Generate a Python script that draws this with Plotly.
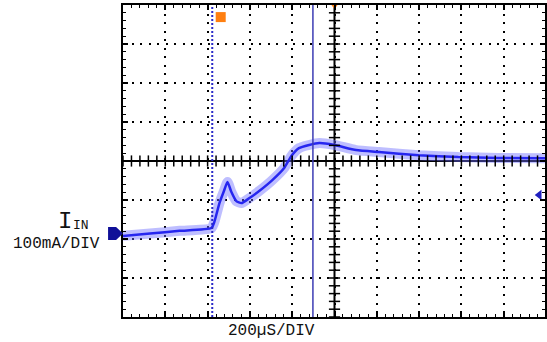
import numpy as np
import plotly.graph_objects as go

# Trace (x in divisions 0..10, y in divisions -4..4)
t_div = [0.0, 0.64, 1.34, 2.09, 2.16, 2.28, 2.38, 2.47, 2.56, 2.68, 2.80, 2.99,
         3.22, 3.53, 3.81, 3.98, 4.16, 4.40, 4.64, 5.0, 5.51, 6.05, 6.99, 7.93,
         8.87, 10.0]
i_div = [-1.92, -1.86, -1.79, -1.72, -1.56, -1.08, -0.79, -0.54, -0.79, -1.03,
         -1.08, -0.95, -0.77, -0.49, -0.18, 0.13, 0.33, 0.41, 0.46, 0.41, 0.28,
         0.23, 0.15, 0.10, 0.08, 0.07]

cursor_dotted = 2.11
cursor_solid = 4.49
y_label = "I"
y_sub = "IN"
y_scale = "100mA/DIV"
x_scale = "200µS/DIV"

W, H = 547, 342
L, T, B = 123, 5, 25
PW = W - L
PH = H - T - B
BOT = T + PH
x_range = [0, PW / 42.5]


def px_x(px):
    return (px - L) / PW


def px_y(py):
    return (BOT - py) / PH


fig = go.Figure()

# trace halo and core
fig.add_trace(go.Scatter(x=t_div, y=i_div, mode="lines",
                         line=dict(color="rgba(110,110,255,0.45)", width=10, shape="spline", smoothing=0.5),
                         hoverinfo="skip"))
fig.add_trace(go.Scatter(x=t_div, y=i_div, mode="lines",
                         line=dict(color="#2626f0", width=2.5, shape="spline", smoothing=0.5),
                         hoverinfo="skip"))

# center axes
fig.add_shape(type="line", x0=0, x1=10, y0=0, y1=0, line=dict(color="black", width=2), layer="below")
fig.add_shape(type="line", x0=5, x1=5, y0=-4, y1=4, line=dict(color="black", width=2), layer="below")
ticks = np.arange(0, 10.001, 0.2)
fig.add_trace(go.Scatter(x=ticks, y=np.zeros_like(ticks), mode="markers",
                         marker=dict(symbol="line-ns-open", size=8, color="black",
                                     line=dict(color="black", width=1.5)),
                         hoverinfo="skip"))
vticks = np.arange(-4, 4.001, 0.2)
fig.add_trace(go.Scatter(x=np.full_like(vticks, 5.0), y=vticks, mode="markers",
                         marker=dict(symbol="line-ew-open", size=8, color="black",
                                     line=dict(color="black", width=1.5)),
                         hoverinfo="skip"))

# cursors
fig.add_shape(type="line", x0=cursor_dotted, x1=cursor_dotted, y0=-4, y1=4,
              line=dict(color="#2a2ac8", width=2, dash="2px,2px"))
fig.add_shape(type="line", x0=cursor_solid, x1=cursor_solid, y0=-4, y1=4,
              line=dict(color="#3c3cb4", width=1.5))

# markers: trigger, trigger position, trigger level
fig.add_trace(go.Scatter(x=[2.31], y=[3.69], mode="markers",
                         marker=dict(symbol="square", size=10, color="#ff7f10"),
                         hoverinfo="skip"))
fig.add_trace(go.Scatter(x=[5.0], y=[4.0], mode="markers", cliponaxis=False,
                         marker=dict(symbol="triangle-down", size=8, color="#ff7f10"),
                         hoverinfo="skip"))
fig.add_trace(go.Scatter(x=[9.84], y=[-0.87], mode="markers", cliponaxis=False,
                         marker=dict(symbol="triangle-left", size=9, color="#2020c0"),
                         hoverinfo="skip"))

# channel ground marker (home-plate arrow in the left margin)
x0, xm, x1 = px_x(108), px_x(116), px_x(123)
ya, yc, yb = px_y(227), px_y(233.5), px_y(240)
fig.add_shape(type="path", xref="paper", yref="paper",
              path=f"M {x0},{ya} L {xm},{ya} L {x1},{yc} L {xm},{yb} L {x0},{yb} Z",
              fillcolor="#101098", line=dict(width=0))

axis_common = dict(showline=True, linecolor="black", linewidth=2, mirror="ticks",
                   ticks="inside", ticklen=5, tickwidth=1.5, tickcolor="black",
                   showticklabels=False, zeroline=False,
                   showgrid=True, gridcolor="black", gridwidth=1.5, griddash="2px,6.5px",
                   tick0=0, dtick=1,
                   minor=dict(dtick=0.2, ticks="inside", ticklen=3, tickwidth=1.2,
                              tickcolor="black", showgrid=False))

fig.update_xaxes(range=x_range, **axis_common)
fig.update_yaxes(range=[-4, 4], **axis_common)

font = "Liberation Mono"
ann = dict(xref="paper", yref="paper", showarrow=False, xanchor="center", yanchor="middle")
fig.add_annotation(x=px_x(65), y=px_y(221), text=y_label,
                   font=dict(family=font, size=24, color="#111"), **ann)
fig.add_annotation(x=px_x(81), y=px_y(226), text=y_sub,
                   font=dict(family=font, size=13, color="#111"), **ann)
fig.add_annotation(x=px_x(56), y=px_y(244), text=y_scale,
                   font=dict(family=font, size=16, color="#111"), **ann)
fig.add_annotation(x=px_x(272), y=px_y(331), text=x_scale,
                   font=dict(family=font, size=16, color="#111"), **ann)

fig.update_layout(width=W, height=H, margin=dict(l=L, r=0, t=T, b=B),
                  plot_bgcolor="white", paper_bgcolor="white", showlegend=False)

fig.write_html("out.html", config={"displayModeBar": False},
               post_script="document.body.style.margin='0px';document.body.style.overflow='hidden';")
